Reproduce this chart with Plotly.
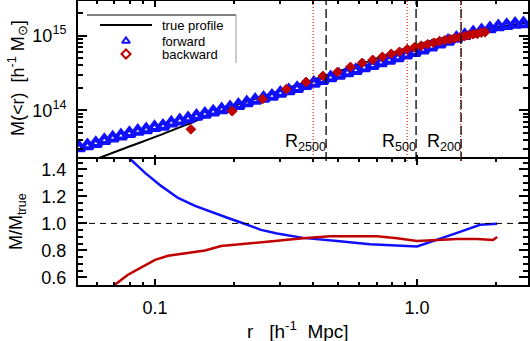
import numpy as np
import plotly.graph_objects as go

# radii in h^-1 Mpc, masses in 1e14 h^-1 Msun
r_fwd = [0.0513, 0.0552, 0.0594, 0.0640, 0.0689, 0.0741, 0.0798, 0.0859, 0.0925, 0.0995,
         0.1072, 0.1153, 0.1242, 0.1337, 0.1439, 0.1549, 0.1667, 0.1795, 0.1932, 0.2080,
         0.2239, 0.2410, 0.2594, 0.2793, 0.3006, 0.3236, 0.3483, 0.3750, 0.4036, 0.4345,
         0.4677, 0.5035, 0.5420, 0.5834, 0.6281, 0.6761, 0.7278, 0.7834, 0.8433, 0.9078,
         0.9772, 1.0520, 1.1324, 1.2190, 1.3122, 1.4125, 1.5205, 1.6368, 1.7620, 1.8967,
         2.0417, 2.1979, 2.3659, 2.5468]
m_fwd = [0.313, 0.334, 0.358, 0.391, 0.424, 0.452, 0.486, 0.520, 0.548, 0.584,
         0.610, 0.671, 0.719, 0.767, 0.827, 0.883, 0.948, 1.013, 1.081, 1.161,
         1.255, 1.356, 1.448, 1.541, 1.687, 1.829, 1.958, 2.144, 2.295, 2.512,
         2.723, 2.944, 3.192, 3.408, 3.729, 3.981, 4.330, 4.695, 5.060, 5.502,
         5.948, 6.430, 7.036, 7.749, 8.401, 9.224, 10.03, 10.91, 11.65, 12.43,
         13.19, 13.73, 14.26, 14.48]

r_bwd = [0.077, 0.137, 0.197, 0.257, 0.317, 0.377, 0.437, 0.497, 0.557, 0.617,
         0.677, 0.737, 0.797, 0.857, 0.917, 0.977, 1.037, 1.097, 1.157, 1.217,
         1.277, 1.337, 1.397, 1.457, 1.517, 1.577, 1.637, 1.697, 1.757, 1.817]
m_bwd = [0.192, 0.554, 0.969, 1.41, 1.92, 2.39, 2.88, 3.26, 3.81, 4.32,
         4.74, 5.20, 5.71, 6.08, 6.58, 7.00, 7.33, 7.68, 8.04, 8.43,
         8.70, 8.97, 9.25, 9.55, 9.85, 10.16, 10.47, 10.60, 11.00, 11.15]

r_true = [0.0508, 0.0735, 0.1063, 0.1421, 0.2206, 0.3672, 0.6616, 1.0, 1.421, 2.020, 2.65]
m_true = [0.178, 0.2925, 0.474, 0.710, 1.283, 2.317, 4.595, 7.555, 10.31, 13.03, 15.22]

# ratio M/M_true
r_ratio_fwd = [0.0761, 0.0810, 0.0916, 0.1054, 0.1224, 0.1421, 0.1636, 0.1899, 0.2206, 0.2538,
               0.2921, 0.3672, 0.4951, 0.6616, 1.0, 1.192, 1.421, 1.740, 2.020]
ratio_fwd = [1.52, 1.47, 1.374, 1.278, 1.189, 1.13, 1.085, 1.04, 0.996, 0.952,
             0.925, 0.893, 0.87, 0.845, 0.83, 0.878, 0.93, 0.99, 0.998]
r_ratio_bwd = [0.0685, 0.0788, 0.0916, 0.100, 0.1121, 0.1336, 0.1551, 0.1786, 0.2206, 0.2921,
               0.3672, 0.4655, 0.7035, 0.8389, 1.0, 1.192, 1.421, 1.694, 1.950, 2.020]
ratio_bwd = [0.53, 0.62, 0.69, 0.73, 0.76, 0.78, 0.80, 0.833, 0.85, 0.875,
             0.89, 0.905, 0.905, 0.89, 0.87, 0.878, 0.885, 0.885, 0.878, 0.90]

# characteristic radii: true (black dashed) and estimated (red dotted)
r_labels = ["R<sub>2500</sub>", "R<sub>500</sub>", "R<sub>200</sub>"]
r_delta_true = [0.4495, 0.991, 1.472]
r_delta_est = [0.401, 0.916, 1.466]

BLUE = "#1010ff"
RED = "#c00000"
FONT = "Liberation Sans, Arial, sans-serif"
split = 0.4401
px = 1 / 284  # one pixel of plot height, so the two panel borders overlap

fig = go.Figure()

fig.add_trace(go.Scatter(x=r_true, y=np.array(m_true) * 1e14, mode="lines",
                         line=dict(color="black", width=2, shape="spline"),
                         xaxis="x", yaxis="y", showlegend=False))
fig.add_trace(go.Scatter(x=r_fwd, y=np.array(m_fwd) * 1e14, mode="markers",
                         marker=dict(symbol="triangle-up-open", size=10, color=BLUE,
                                     line=dict(width=4, color=BLUE)),
                         xaxis="x", yaxis="y", showlegend=False))
fig.add_trace(go.Scatter(x=r_bwd, y=np.array(m_bwd) * 1e14, mode="markers",
                         marker=dict(symbol="diamond", size=7.5, color=RED,
                                     line=dict(width=1, color=RED)),
                         xaxis="x", yaxis="y", showlegend=False))

fig.add_trace(go.Scatter(x=r_ratio_fwd, y=ratio_fwd, mode="lines",
                         line=dict(color=BLUE, width=2.5),
                         xaxis="x2", yaxis="y2", showlegend=False))
fig.add_trace(go.Scatter(x=r_ratio_bwd, y=ratio_bwd, mode="lines",
                         line=dict(color=RED, width=2.5),
                         xaxis="x2", yaxis="y2", showlegend=False))

# hand-made legend on an overlay axis measured in pixels of the upper panel
leg_names = ["true profile", "forward", "backward"]
leg_rows = [25, 41, 54]
fig.add_trace(go.Scatter(x=[100, 152], y=[leg_rows[0]] * 2, mode="lines",
                         line=dict(color="black", width=2), xaxis="x3", yaxis="y3",
                         showlegend=False, hoverinfo="skip"))
fig.add_trace(go.Scatter(x=[126], y=[leg_rows[1]], mode="markers",
                         marker=dict(symbol="triangle-up-open", size=7, color=BLUE,
                                     line=dict(width=2, color=BLUE)),
                         xaxis="x3", yaxis="y3", showlegend=False, hoverinfo="skip"))
fig.add_trace(go.Scatter(x=[126], y=[leg_rows[2]], mode="markers",
                         marker=dict(symbol="diamond-open", size=7, color=RED,
                                     line=dict(width=2, color=RED)),
                         xaxis="x3", yaxis="y3", showlegend=False, hoverinfo="skip"))

annotations = []
for name, row in zip(leg_names, leg_rows):
    annotations.append(dict(x=161, y=row, xref="x3", yref="y3", text=name, showarrow=False,
                            xanchor="left", yanchor="middle", font=dict(size=13),
                            borderpad=0))
for lab, rv in zip(r_labels, r_delta_true):
    annotations.append(dict(x=np.log10(rv), y=156, xref="x", yref="y3", text=lab,
                            showarrow=False, xanchor="right", yanchor="bottom",
                            font=dict(size=18), xshift=2))

annotations += [
    dict(x=-0.1333, y=0.729, xref="paper", yref="paper", textangle=-90, showarrow=False,
         xanchor="center", yanchor="middle",
         text="M(&lt;r)  [h<sup>-1</sup> M<sub>⊙</sub>]", font=dict(size=18)),
    dict(x=-0.1333, y=0.222, xref="paper", yref="paper", textangle=-90, showarrow=False,
         xanchor="center", yanchor="middle",
         text="M/M<sub>true</sub>", font=dict(size=18)),
    dict(x=0.489, y=-0.158, xref="paper", yref="paper", showarrow=False,
         xanchor="center", yanchor="middle",
         text="r   [h<sup>-1</sup>  Mpc]", font=dict(size=19)),
]

shapes = []
for rv in r_delta_true:
    shapes.append(dict(type="line", xref="x", yref="y domain", x0=rv, x1=rv, y0=0, y1=1,
                       line=dict(color="black", width=1.3, dash="9px,4px")))
for rv in r_delta_est:
    shapes.append(dict(type="line", xref="x", yref="y domain", x0=rv, x1=rv, y0=0, y1=1,
                       line=dict(color=RED, width=1, dash="1px,2px")))
shapes.append(dict(type="line", xref="x2 domain", yref="y2", x0=0, x1=1, y0=1, y1=1,
                   line=dict(color="black", width=1, dash="6px,5px")))
# legend frame (top and right edges only)
shapes.append(dict(type="line", xref="x3", yref="y3", x0=87, x1=236, y0=15, y1=15,
                   line=dict(color="black", width=1)))
shapes.append(dict(type="line", xref="x3", yref="y3", x0=236, x1=236, y0=15, y1=63,
                   line=dict(color="#999999", width=1)))

x_minor = [0.06, 0.07, 0.08, 0.09, 0.2, 0.3, 0.4, 0.5, 0.6, 0.7, 0.8, 0.9, 2.0]
y_minor = [3e13, 4e13, 5e13, 6e13, 7e13, 8e13, 9e13,
           2e14, 3e14, 4e14, 5e14, 6e14, 7e14, 8e14, 9e14, 2e15]

xcommon = dict(type="log", range=[np.log10(0.0508), np.log10(2.65)],
               tickvals=[0.1, 1.0], ticktext=["0.1", "1.0"],
               ticks="inside", ticklen=6, tickwidth=1.5, tickcolor="black",
               minor=dict(tickvals=x_minor, ticks="inside", ticklen=3, tickcolor="black"),
               showline=True, linecolor="black", linewidth=2, mirror="ticks",
               showgrid=False, zeroline=False, automargin=False)
ycommon = dict(ticks="inside", ticklen=9, tickwidth=1.5, tickcolor="black",
               showline=True, linecolor="black", linewidth=2, mirror="ticks",
               showgrid=False, zeroline=False, ticklabelstandoff=6, automargin=False)

fig.update_layout(
    width=530, height=341,
    margin=dict(l=78, r=2, t=1, b=56),
    plot_bgcolor="white", paper_bgcolor="white",
    font=dict(family=FONT, size=18, color="black"),
    xaxis=dict(xcommon, anchor="y", matches="x2", showticklabels=False),
    xaxis2=dict(xcommon, anchor="y2", ticklabelstandoff=5),
    yaxis=dict(ycommon, type="log", domain=[split - px, 1], anchor="x",
               range=[13.318, 15.466], tickvals=[1e14, 1e15],
               ticktext=["10<sup>14</sup>", "10<sup>15</sup>"],
               minor=dict(tickvals=y_minor, ticks="inside", ticklen=5, tickcolor="black")),
    yaxis2=dict(ycommon, domain=[0, split + px], anchor="x2", range=[0.544, 1.477],
                tickvals=[0.6, 0.8, 1.0, 1.2, 1.4],
                ticktext=["0.6", "0.8", "1.0", "1.2", "1.4"],
                minor=dict(dtick=0.05, tick0=0, ticks="inside", ticklen=5, tickcolor="black")),
    xaxis3=dict(overlaying="x", range=[78, 528], visible=False, anchor="y3", automargin=False),
    yaxis3=dict(overlaying="y", range=[161, 1], visible=False, anchor="x3", automargin=False),
    annotations=annotations,
    shapes=shapes,
)

# the page's default body margin would shift the 530x341 figure
fig.write_html("out.html", config={"displayModeBar": False},
               post_script="document.body.style.margin='0';")
